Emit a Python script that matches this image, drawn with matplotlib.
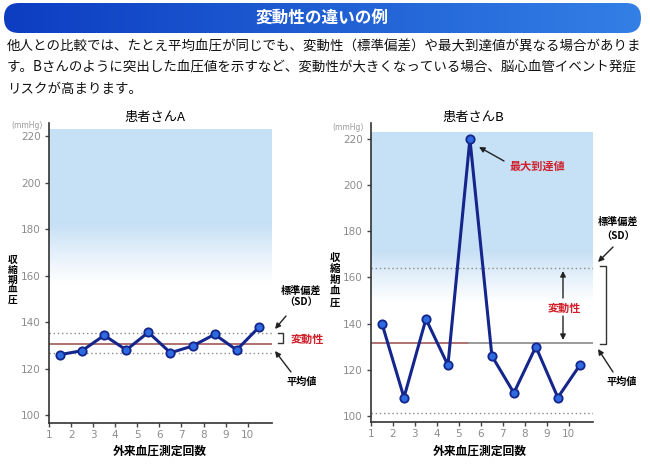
import matplotlib.pyplot as plt
import numpy as np
from matplotlib.patches import FancyBboxPatch

plt.rcParams['font.family'] = ['Noto Sans CJK JP', 'DejaVu Sans']

# data
visits = [1.5, 2.5, 3.5, 4.5, 5.5, 6.5, 7.5, 8.5, 9.5, 10.5]
bp_a = [126, 127.7, 134.3, 128, 135.6, 126.8, 129.7, 134.7, 128, 137.7]
bp_b = [140, 108, 142, 122, 220, 126, 110, 130, 108, 122]
mean_a = 130.7
band_a = [126.5, 135.4]
mean_b = 131.5
band_b = [101.2, 164.3]
yticks = [100, 120, 140, 160, 180, 200, 220]
xticks = [1, 2, 3, 4, 5, 6, 7, 8, 9, 10]

title = "変動性の違いの例"
body = ["他人との比較では、たとえ平均血圧が同じでも、変動性（標準偏差）や最大到達値が異なる場合がありま",
        "す。Bさんのように突出した血圧値を示すなど、変動性が大きくなっている場合、脳心血管イベント発症",
        "リスクが高まります。"]

sky = np.array([0.776, 0.878, 0.961])
navy = '#14258c'
dot_fill = '#2f6be0'
mean_red = '#a05a5a'
grey_dot = '#8a8a8a'

fig = plt.figure(figsize=(6.5, 4.68), dpi=100)


def px_axes(left, top, right, bottom):
    return fig.add_axes([left / 650, (468 - bottom) / 468,
                         (right - left) / 650, (bottom - top) / 468])


def sky_fade(ax, solid_to, fade_to):
    # solid part, then a linear fade to white
    ax.fill_between([1, 11.1], solid_to, 223, color=sky, lw=0, zorder=0)
    ys = np.linspace(solid_to, fade_to, 100)
    img = np.zeros((100, 1, 4))
    img[:, 0, :3] = sky
    img[:, 0, 3] = np.linspace(1, 0, 100) ** 1.1
    ax.imshow(img, extent=(1, 11.1, fade_to, solid_to), aspect='auto', zorder=0,
              interpolation='bilinear')


def style(ax, ylo, yhi):
    ax.set_xlim(1, 11.1)
    ax.set_ylim(ylo, yhi)
    for s in ['top', 'right']:
        ax.spines[s].set_visible(False)
    for s in ['left', 'bottom']:
        ax.spines[s].set_color('#333333')
        ax.spines[s].set_linewidth(1.2)
    ax.set_yticks(yticks)
    ax.set_xticks(xticks)
    ax.tick_params(axis='both', direction='out', length=3, width=1,
                   color='#444444', labelcolor='#8c8c8c', labelsize=7.5)
    ax.tick_params(axis='y', pad=3)
    ax.tick_params(axis='x', pad=2)
    for lab in ax.get_xticklabels() + ax.get_yticklabels():
        lab.set_family('DejaVu Sans')
    ax.set_facecolor('none')


# patient A
axA = px_axes(49, 123, 272, 423)
style(axA, 96.6, 225.6)
sky_fade(axA, 183, 156)
axA.axhline(mean_a, color=mean_red, lw=1.2, zorder=2)
for b in band_a:
    axA.axhline(b, color=grey_dot, lw=1, ls=(0, (1, 2)), zorder=2)
axA.plot(visits, bp_a, color=navy, lw=2.2, marker='o', ms=6,
         mfc=dot_fill, mec=navy, mew=1.3, zorder=3)

# patient B
axB = px_axes(371, 123, 593, 422)
style(axB, 97.4, 226.9)
sky_fade(axB, 172, 149)
axB.plot([1, 5.4], [mean_b, mean_b], color=mean_red, lw=1.2, zorder=2)
axB.plot([5.4, 11.1], [mean_b, mean_b], color='#8a8a8a', lw=1.2, zorder=2)
for b in band_b:
    axB.axhline(b, color=grey_dot, lw=1, ls=(0, (1, 2)), zorder=2)
axB.plot(visits, bp_b, color=navy, lw=2.2, marker='o', ms=6,
         mfc=dot_fill, mec=navy, mew=1.3, zorder=3)

# overlay in pixel coordinates for header and notes
ov = fig.add_axes([0, 0, 1, 1], zorder=10)
ov.set_xlim(0, 650)
ov.set_ylim(468, 0)
ov.axis('off')
ov.patch.set_alpha(0)

banner = FancyBboxPatch((4, 3), 637, 30, boxstyle="round,pad=0,rounding_size=15",
                        facecolor='none', edgecolor='none')
ov.add_patch(banner)
grad = np.zeros((1, 200, 3))
c0 = np.array([0.05, 0.24, 0.76])
c1 = np.array([0.20, 0.50, 0.90])
for i in range(200):
    t = i / 199
    grad[0, i] = c0 * (1 - t) + c1 * t
im = ov.imshow(grad, extent=(4, 641, 33, 3), aspect='auto', interpolation='bilinear')
im.set_clip_path(banner)
ov.set_xlim(0, 650)
ov.set_ylim(468, 0)
ov.text(322, 18, title, color='white', fontsize=12, fontweight='bold',
        ha='center', va='center')

for i, line in enumerate(body):
    ov.text(7, 47 + 21 * i, line, fontsize=9.7, ha='left', va='center', color='#111111')

# chart titles and axis labels
ov.text(155, 117, "患者さんA", fontsize=9.5, ha='center', va='center')
ov.text(473, 117, "患者さんB", fontsize=9.5, ha='center', va='center')
ov.text(27, 126, "(mmHg)", fontsize=5.5, color='#9a9a9a', ha='center', va='center',
        family='DejaVu Sans')
ov.text(348, 128, "(mmHg)", fontsize=5.5, color='#9a9a9a', ha='center', va='center',
        family='DejaVu Sans')
for i, ch in enumerate("収縮期血圧"):
    ov.text(13, 260 + 10 * i, ch, fontsize=7, fontweight='bold', ha='center', va='center')
    ov.text(335, 258 + 11.2 * i, ch, fontsize=7.5, fontweight='bold', ha='center', va='center')
ov.text(160, 451, "外来血圧測定回数", fontsize=8.5, fontweight='bold', ha='center', va='center')
ov.text(480, 451, "外来血圧測定回数", fontsize=8.5, fontweight='bold', ha='center', va='center')

arrow = dict(arrowstyle='-|>', color='#222222', lw=1.0, mutation_scale=8,
             shrinkA=0, shrinkB=0)

# notes for A
ov.text(301, 291, "標準偏差", fontsize=7.3, fontweight='bold', ha='center', va='center')
ov.text(301, 302, "（SD）", fontsize=7.3, fontweight='bold', ha='center', va='center')
ov.annotate('', xy=(275, 329), xytext=(286, 316), arrowprops=arrow)
ov.plot([278, 283, 283, 278], [333, 333, 343, 343], color='#333333', lw=1)
ov.text(307, 339, "変動性", fontsize=8, fontweight='bold', color='#d0202a',
        ha='center', va='center')
ov.annotate('', xy=(275, 351), xytext=(291, 372), arrowprops=arrow)
ov.text(302, 382, "平均値", fontsize=7.3, fontweight='bold', ha='center', va='center')

# notes for B
ov.annotate('', xy=(479, 147), xytext=(504, 161), arrowprops=arrow)
ov.text(537, 166, "最大到達値", fontsize=8, fontweight='bold', color='#d0202a',
        ha='center', va='center')
ov.text(618, 222, "標準偏差", fontsize=7.3, fontweight='bold', ha='center', va='center')
ov.text(618, 236, "（SD）", fontsize=7.3, fontweight='bold', ha='center', va='center')
ov.annotate('', xy=(598, 262), xytext=(613, 247), arrowprops=arrow)
ov.plot([600, 606, 606, 600], [266, 266, 344, 344], color='#333333', lw=1)
ov.annotate('', xy=(563, 271), xytext=(563, 298), arrowprops=arrow)
ov.annotate('', xy=(563, 340), xytext=(563, 316), arrowprops=arrow)
ov.text(564, 308, "変動性", fontsize=8, fontweight='bold', color='#d0202a',
        ha='center', va='center')
ov.annotate('', xy=(598, 349), xytext=(613, 372), arrowprops=arrow)
ov.text(622, 382, "平均値", fontsize=7.3, fontweight='bold', ha='center', va='center')

fig.savefig('out.png', dpi=100, facecolor='white')
